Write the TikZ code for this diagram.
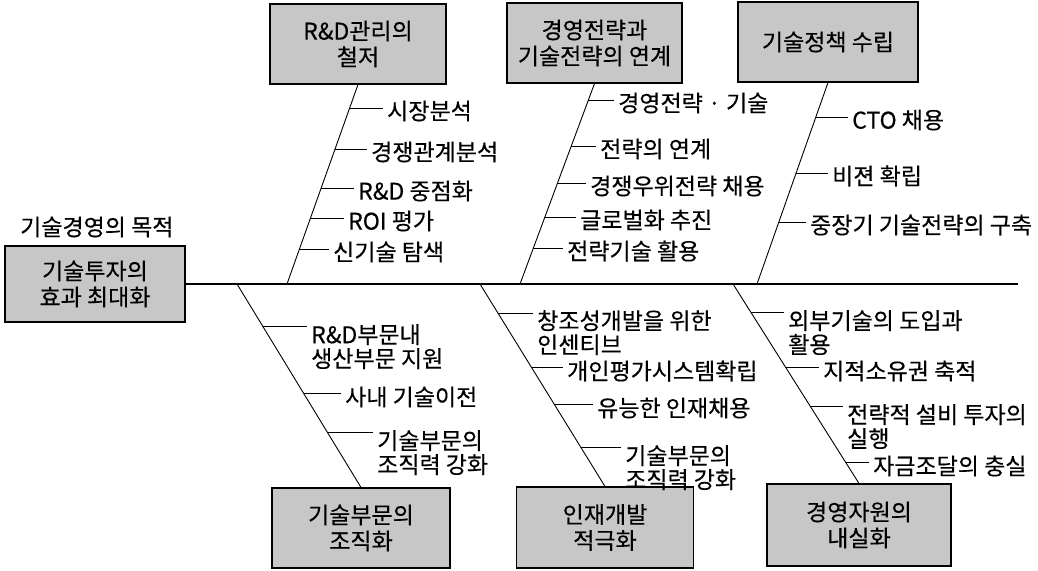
\documentclass[tikz,border=0pt]{standalone}
\usepackage{fontspec}
\setmainfont{Noto Sans CJK KR}[FakeBold=0.35]
\usetikzlibrary{calc}
\begin{document}
\begin{tikzpicture}[x=1pt,y=-1pt,
  lbl/.style={font=\fontsize{23}{24}\selectfont, inner sep=0pt, anchor=west},
  lbltwo/.style={lbl, align=left, anchor=north west},
  box/.style={draw, line width=1.1pt, fill=black!22, font=\fontsize{23}{26}\selectfont, align=center, inner sep=0pt},
  spine/.style={line width=1.2pt},
  bone/.style={line width=0.9pt},
  twig/.style={line width=0.9pt}]
\useasboundingbox (0,0) rectangle (1038,570);

% boxes
\node[box, minimum width=180pt, minimum height=76pt] (main) at (95,284) {기술투자의\\효과 최대화};
\node[lbl] (goal) at (20,227) {기술경영의 목적};
\node[box, minimum width=176pt, minimum height=80pt] (b1) at (358,44) {R\&D관리의\\철저};
\node[box, minimum width=175pt, minimum height=80pt] (b2) at (594.5,43) {경영전략과\\기술전략의 연계};
\node[box, minimum width=180pt, minimum height=80pt] (b3) at (828,42) {기술정책 수립};
\node[box, minimum width=178pt, minimum height=80pt] (b4) at (361,528) {기술부문의\\조직화};
\node[box, minimum width=177pt, minimum height=81pt] (b5) at (605,527.5) {인재개발\\적극화};
\node[box, minimum width=184pt, minimum height=82pt] (b6) at (859,525) {경영자원의\\내실화};

% spine
\coordinate (se) at (1018,284);
\draw[spine] (main.east) -- (se);

% feet of branches
\coordinate (f1) at (287,284);
\coordinate (f2) at (520,284);
\coordinate (f3) at (757,284);
\coordinate (f4) at (237,284);
\coordinate (f5) at (480,284);
\coordinate (f6) at (733,284);

\draw[bone] (b1.south) -- (f1);
\draw[bone] (b2.south) -- (f2);
\draw[bone] (b3.south) -- (f3);
\draw[bone] (f4) -- (b4.north);
\draw[bone] (f5) -- (b5.north);
\draw[bone] (f6) -- (b6.north);

% branch 1
\coordinate (p11) at ($(b1.south)!0.12!(f1)$);
\coordinate (p12) at ($(b1.south)!0.325!(f1)$);
\coordinate (p13) at ($(b1.south)!0.52!(f1)$);
\coordinate (p14) at ($(b1.south)!0.67!(f1)$);
\coordinate (p15) at ($(b1.south)!0.825!(f1)$);
\node[lbl] (t11) at (387,111) {시장분석};
\node[lbl] (t12) at (371,152) {경쟁관계분석};
\node[lbl] (t13) at (358,191) {R\&D 중점화};
\node[lbl] (t14) at (348,221) {ROI 평가};
\node[lbl] (t15) at (333,252) {신기술 탐색};
\foreach \i in {1,...,5} \draw[twig] (p1\i) -- ([xshift=-4pt]p1\i -| t1\i.west);

% branch 2
\coordinate (p21) at ($(b2.south)!0.085!(f2)$);
\coordinate (p22) at ($(b2.south)!0.313!(f2)$);
\coordinate (p23) at ($(b2.south)!0.498!(f2)$);
\coordinate (p24) at ($(b2.south)!0.667!(f2)$);
\coordinate (p25) at ($(b2.south)!0.821!(f2)$);
\node[lbl] (t21) at (618,103) {경영전략 · 기술};
\node[lbl] (t22) at (600,149) {전략의 연계};
\node[lbl] (t23) at (590,186) {경쟁우위전략 채용};
\node[lbl] (t24) at (580,220) {글로벌화 추진};
\node[lbl] (t25) at (567,251) {전략기술 활용};
\foreach \i in {1,...,5} \draw[twig] (p2\i) -- ([xshift=-4pt]p2\i -| t2\i.west);

% branch 3
\coordinate (p31) at ($(b3.south)!0.173!(f3)$);
\coordinate (p32) at ($(b3.south)!0.45!(f3)$);
\coordinate (p33) at ($(b3.south)!0.693!(f3)$);
\node[lbl] (t31) at (852,120) {CTO 채용};
\node[lbl] (t32) at (832,176) {비젼 확립};
\node[lbl] (t33) at (810,225) {중장기 기술전략의 구축};
\foreach \i in {1,...,3} \draw[twig] (p3\i) -- ([xshift=-4pt]p3\i -| t3\i.west);

% branch 4
\coordinate (p41) at ($(f4)!0.211!(b4.north)$);
\coordinate (p42) at ($(f4)!0.539!(b4.north)$);
\coordinate (p43) at ($(f4)!0.730!(b4.north)$);
\node[lbltwo] (t41) at (311,324) {R\&D부문내\\생산부문 지원};
\node[lbl] (t42) at (345,397) {사내 기술이전};
\node[lbltwo] (t43) at (377,430) {기술부문의\\조직력 강화};
\foreach \i in {1,...,3} \draw[twig] (p4\i) -- ([xshift=-4pt]p4\i -| t4\i.west);

% branch 5
\coordinate (p51) at ($(f5)!0.143!(b5.north)$);
\coordinate (p52) at ($(f5)!0.414!(b5.north)$);
\coordinate (p53) at ($(f5)!0.596!(b5.north)$);
\coordinate (p54) at ($(f5)!0.808!(b5.north)$);
\node[lbltwo] (t51) at (537,310) {창조성개발을 위한\\인센티브};
\node[lbl] (t52) at (567,371) {개인평가시스템확립};
\node[lbl] (t53) at (597,408) {유능한 인재채용};
\node[lbltwo] (t54) at (625,445) {기술부문의\\조직력 강화};
\foreach \i in {1,...,4} \draw[twig] (p5\i) -- ([xshift=-4pt]p5\i -| t5\i.west);

% branch 6
\coordinate (p61) at ($(f6)!0.145!(b6.north)$);
\coordinate (p62) at ($(f6)!0.42!(b6.north)$);
\coordinate (p63) at ($(f6)!0.615!(b6.north)$);
\coordinate (p64) at ($(f6)!0.895!(b6.north)$);
\node[lbltwo] (t61) at (788,310) {외부기술의 도입과\\활용};
\node[lbl] (t62) at (823,371) {지적소유권 축적};
\node[lbltwo] (t63) at (847,404) {전략적 설비 투자의\\실행};
\node[lbl] (t64) at (873,466) {자금조달의 충실};
\foreach \i in {1,...,4} \draw[twig] (p6\i) -- ([xshift=-4pt]p6\i -| t6\i.west);
\end{tikzpicture}
\end{document}
